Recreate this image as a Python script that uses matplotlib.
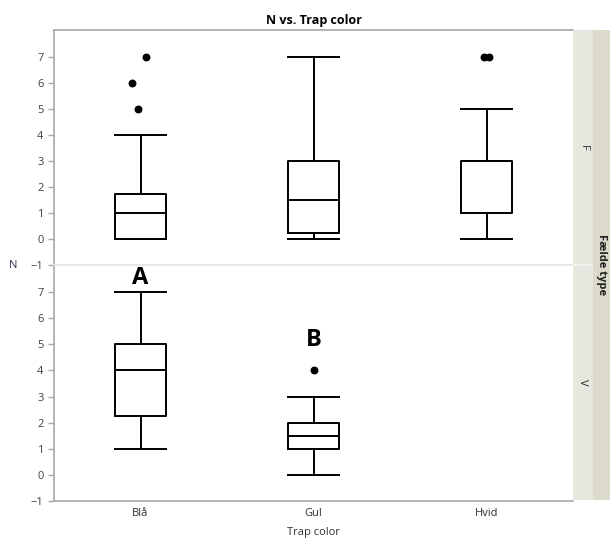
import numpy as np
import matplotlib
matplotlib.use('Agg')
import matplotlib.pyplot as plt

plt.rcParams['font.family'] = ['Open Sans', 'DejaVu Sans']

colors = ['Blå', 'Gul', 'Hvid']
trap_types = ['F', 'V']

# box stats per trap type: (whislo, q1, med, q3, whishi)
stats_F = [(0, 0, 1, 1.75, 4), (0, 0.25, 1.5, 3, 7), (0, 1, 3, 3, 5)]
stats_V = [(1, 2.25, 4, 5, 7), (0, 1, 1.5, 2, 3), None]
fliers_F = [[7, 6, 5], [], [7, 7]]
fliers_V = [[], [4], []]
jitter_F = [[0.03, -0.05, -0.015], [], [-0.015, 0.015]]
jitter_V = [[], [0.0], []]
letters_V = {0: ('A', 7.55), 1: ('B', 5.15)}

fig = plt.figure(figsize=(6.1, 5.41), dpi=100)
L, R = 54 / 610, 573 / 610
ax_top = fig.add_axes([L, 1 - 265 / 541, R - L, 235 / 541])
ax_bot = fig.add_axes([L, 1 - 501 / 541, R - L, 236 / 541])

edge = '#a8a8a8'
lite = '#e6e6e6'
lw = 1.4


def draw_panel(ax, stats, fliers, jitter, ylim):
    bx = []
    pos = []
    for i, s in enumerate(stats):
        if s is None:
            continue
        lo, q1, med, q3, hi = s
        bx.append(dict(whislo=lo, q1=q1, med=med, q3=q3, whishi=hi, fliers=[]))
        pos.append(i)
    ax.bxp(bx, positions=pos, widths=0.29, showfliers=False, patch_artist=False,
           boxprops=dict(color='black', linewidth=lw),
           whiskerprops=dict(color='black', linewidth=lw),
           capprops=dict(color='black', linewidth=lw),
           medianprops=dict(color='black', linewidth=lw),
           capwidths=0.29)
    for i, (fl, jt) in enumerate(zip(fliers, jitter)):
        if fl:
            ax.scatter(np.array(jt) + i, fl, s=22, color='black', zorder=3)
    ax.set_xlim(-0.5, 2.5)
    ax.set_ylim(*ylim)
    ax.set_yticks(range(-1, 8))
    ax.tick_params(axis='y', labelsize=8, colors=edge, labelcolor='#404040',
                   length=4, width=1)
    ax.tick_params(axis='x', length=0)
    for sp in ax.spines.values():
        sp.set_color(edge)
        sp.set_linewidth(1.2)


draw_panel(ax_top, stats_F, fliers_F, jitter_F, (-1, 8.04))
draw_panel(ax_bot, stats_V, fliers_V, jitter_V, (-1, 8.04))

ax_top.set_xticks([])
ax_top.spines['bottom'].set_color(lite)
ax_bot.spines['top'].set_color(lite)
ax_top.spines['right'].set_visible(False)
ax_bot.spines['right'].set_visible(False)

ax_bot.set_xticks(range(3))
ax_bot.set_xticklabels(colors, fontsize=8, color='#303030')
ax_bot.tick_params(axis='x', pad=5)

for i, (txt, y) in letters_V.items():
    ax_bot.text(i, y, txt, ha='center', va='center', fontsize=17,
                fontweight='bold', color='black')

ax_top.set_title('N vs. Trap color', fontsize=9, fontweight='bold', pad=4)
fig.text(313 / 610, 1 - 533 / 541, 'Trap color', ha='center', va='center',
         fontsize=8, color='#303030')
fig.text(13 / 610, 1 - 266 / 541, 'N', ha='center', va='center',
         fontsize=8, color='#3a3050')

# right strips
strip_l = fig.add_axes([573 / 610, 1 - 500 / 541, 20 / 610, 470 / 541])
strip_l.set_facecolor('#e8e7df')
strip_l.set_xticks([])
strip_l.set_yticks([])
strip_l.set_xlim(0, 1)
strip_l.set_ylim(0, 2)
strip_l.axhline(1, color='#f4f4f0', lw=1.2)
for sp in strip_l.spines.values():
    sp.set_visible(False)
for k, t in enumerate(trap_types):
    strip_l.text(0.5, 1.5 - k, t, rotation=-90, ha='center', va='center',
                 fontsize=8, color='#303030')

strip_r = fig.add_axes([593 / 610, 1 - 500 / 541, 17 / 610, 470 / 541])
strip_r.set_facecolor('#dcdacb')
strip_r.set_xticks([])
strip_r.set_yticks([])
for sp in strip_r.spines.values():
    sp.set_visible(False)
strip_r.text(0.5, 0.5, 'Fælde type', rotation=-90, ha='center', va='center',
             fontsize=8, fontweight='bold', color='#202020',
             transform=strip_r.transAxes)

fig.savefig('out.png', dpi=100)
